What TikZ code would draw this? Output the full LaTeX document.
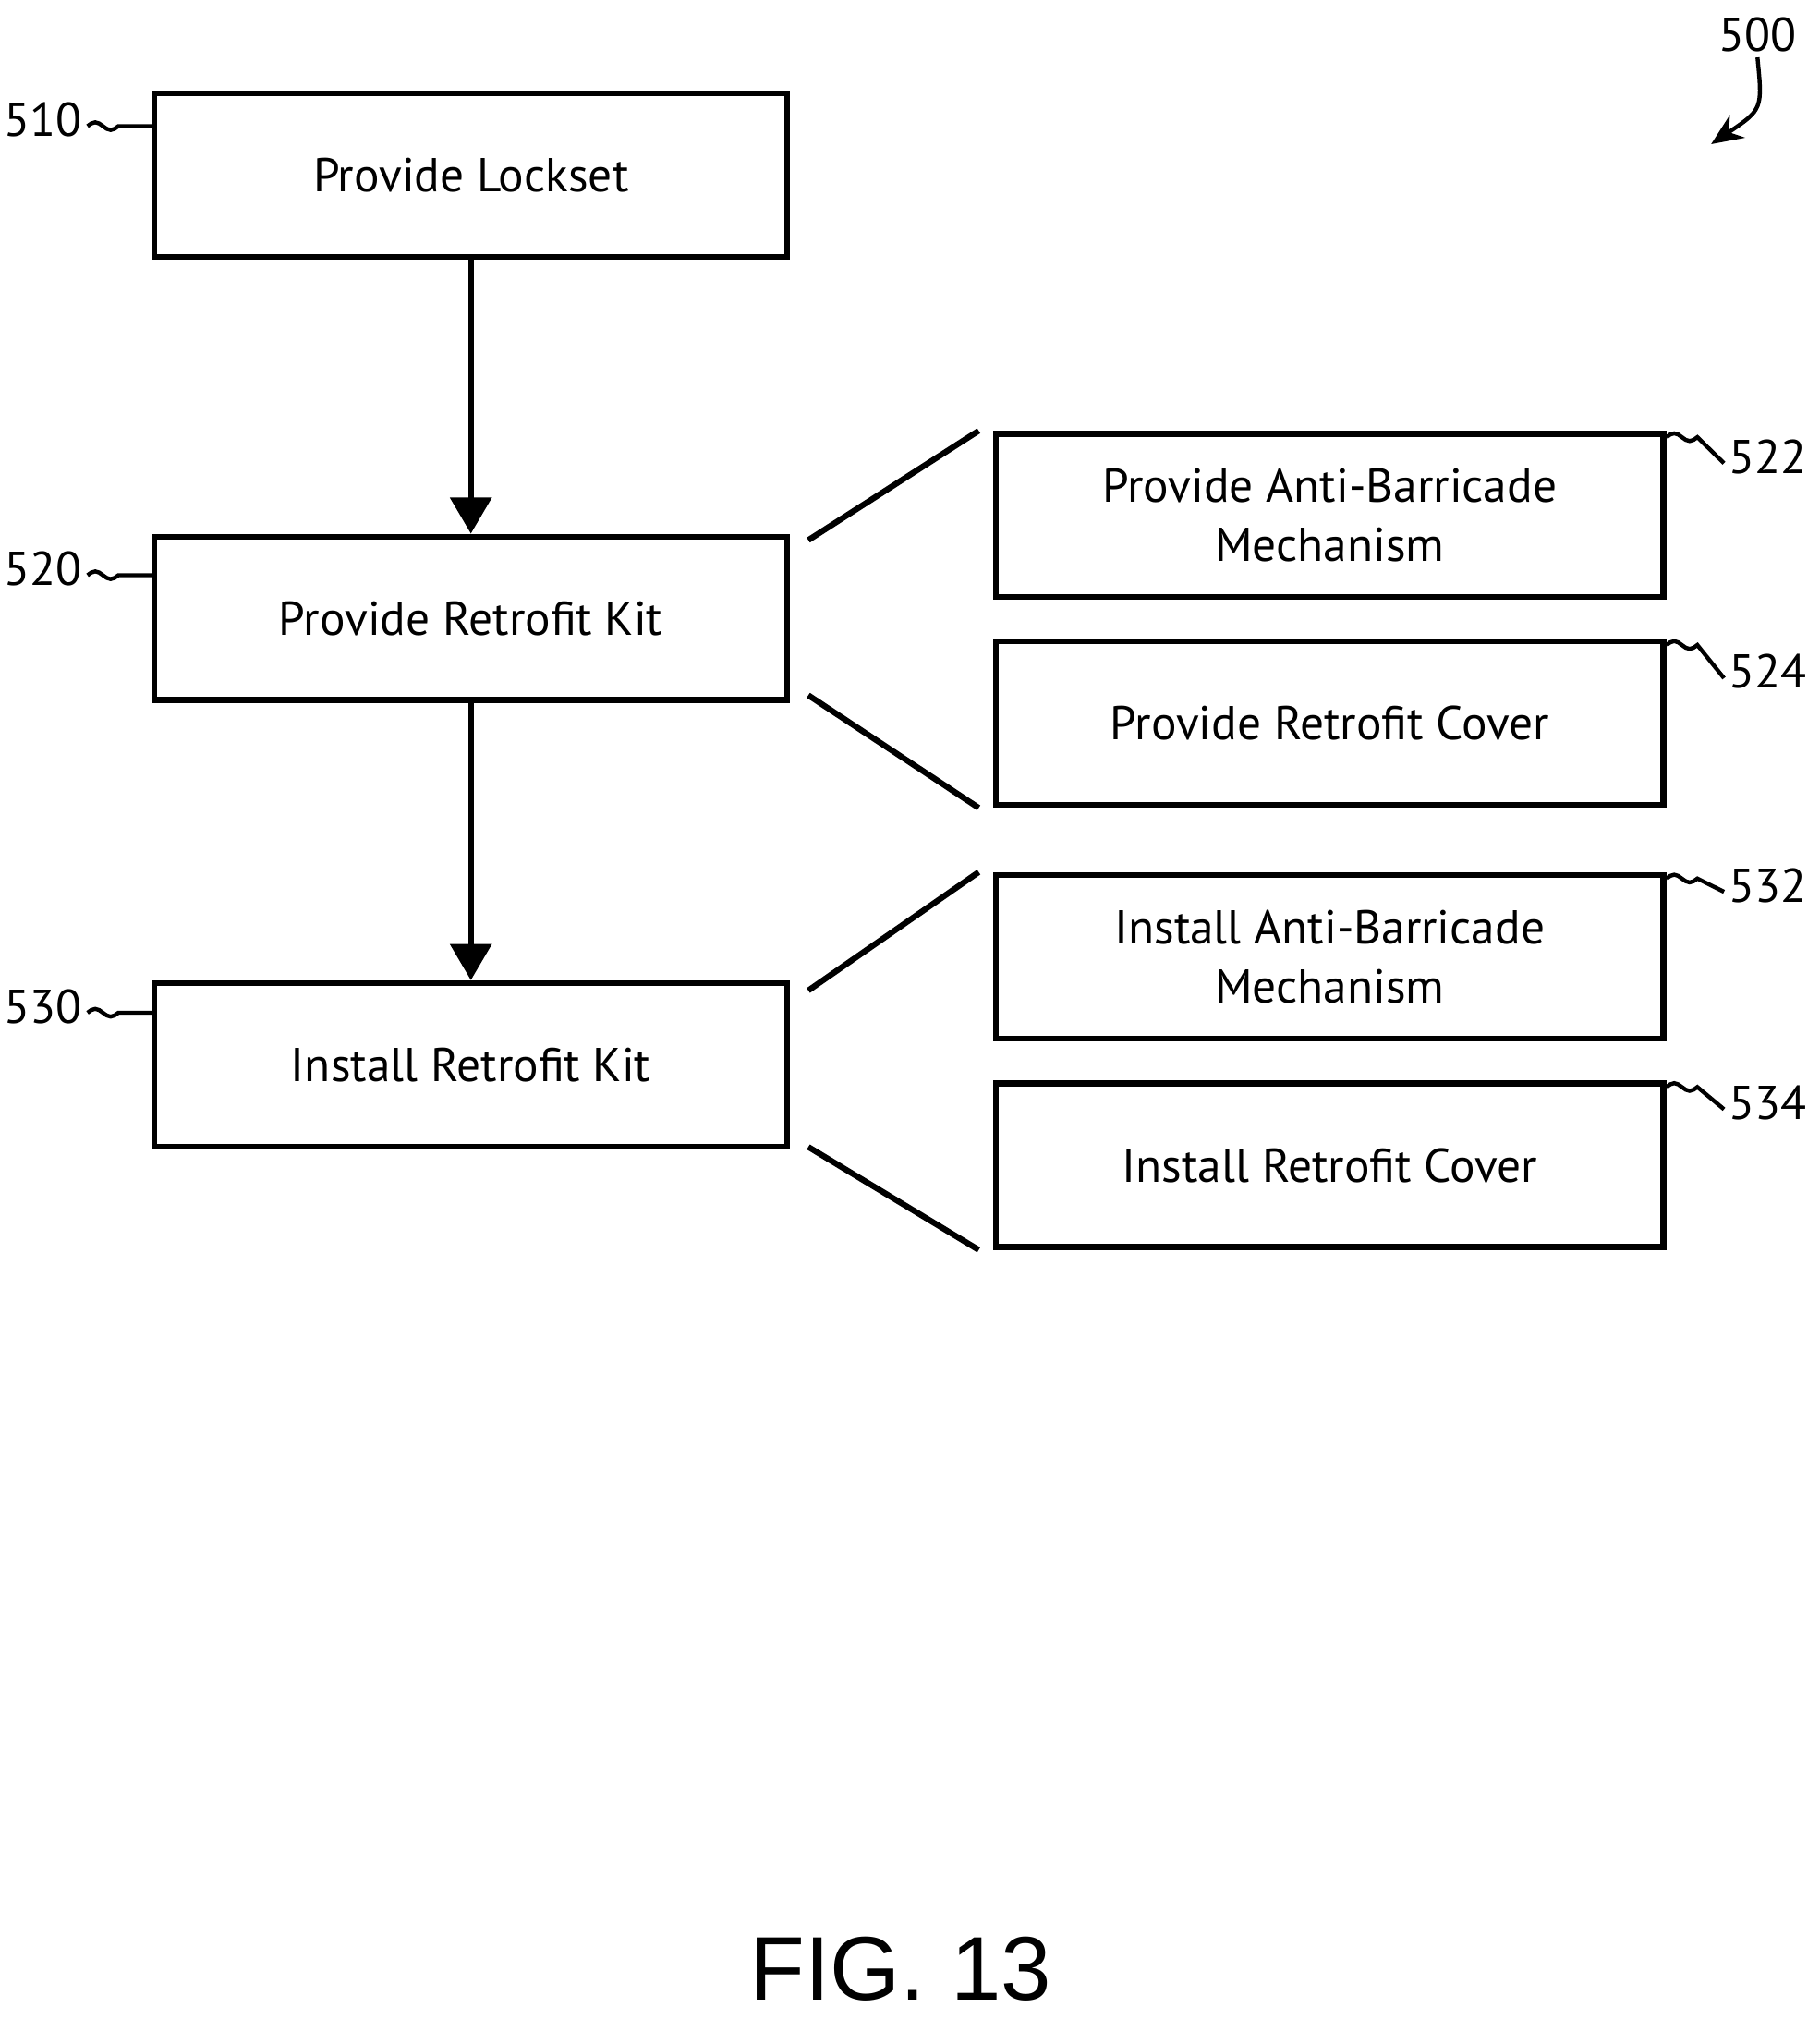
\documentclass[tikz,border=0pt]{standalone}
\usepackage{fontspec}
\setmainfont{PT Sans}
\newfontfamily\figfont{Liberation Sans}
\usetikzlibrary{arrows.meta, positioning}
\tikzset{
  stepbox/.style={draw, line width=1.3pt, minimum width=4.92cm, minimum height=1.27cm, align=center, font=\fontsize{10.5}{13}\selectfont, inner sep=0pt},
  subbox/.style={stepbox, minimum width=5.19cm},
  flow/.style={-{Triangle[length=8pt,width=9pt]}, line width=1.3pt},
  brace/.style={line width=1.3pt},
  ref/.style={font=\fontsize{10.5}{12}\selectfont, inner sep=1pt},
  squig/.style={line width=0.9pt}
}
\newcommand{\wiggle}[1]{ sin ++(0.06,0.03) cos ++(0.06,-0.03) sin ++(0.06,-0.03) cos ++(0.06,0.03)}
\begin{document}
\begin{tikzpicture}
\useasboundingbox (0,0) rectangle (14.14,-15.69);

% main steps
\node[stepbox] (lockset) at (3.66,-1.36) {Provide Lockset};
\node[stepbox] (kit) at (3.66,-4.805) {Provide Retrofit Kit};
\node[stepbox] (install) at (3.66,-8.275) {Install Retrofit Kit};

% sub steps
\node[subbox] (antiA) at (10.335,-4.005) {Provide Anti-Barricade\\Mechanism};
\node[subbox] (coverA) at (10.335,-5.62) {Provide Retrofit Cover};
\node[subbox] (antiB) at (10.335,-7.435) {Install Anti-Barricade\\Mechanism};
\node[subbox] (coverB) at (10.335,-9.055) {Install Retrofit Cover};

\draw[flow] (lockset) -- (kit);
\draw[flow] (kit) -- (install);

\draw[brace] ([xshift=0.14cm,yshift=-0.05cm]kit.north east) -- ([xshift=-0.11cm]antiA.north west);
\draw[brace] ([xshift=0.14cm,yshift=0.06cm]kit.south east) -- ([xshift=-0.11cm]coverA.south west);
\draw[brace] ([xshift=0.14cm,yshift=-0.08cm]install.north east) -- ([xshift=-0.11cm]antiB.north west);
\draw[brace] ([xshift=0.14cm,yshift=0.02cm]install.south east) -- ([xshift=-0.11cm]coverB.south west);

% reference numerals
\node[ref, anchor=east] (n510) at (0.68,-0.93) {510};
\node[ref, anchor=east] (n520) at (0.68,-4.42) {520};
\node[ref, anchor=east] (n530) at (0.68,-7.82) {530};
\node[ref, anchor=west] (n522) at (13.4,-3.55) {522};
\node[ref, anchor=west] (n524) at (13.4,-5.22) {524};
\node[ref, anchor=west] (n532) at (13.4,-6.88) {532};
\node[ref, anchor=west] (n534) at (13.4,-8.57) {534};
\node[ref] (n500) at (13.66,-0.27) {500};

\draw[squig] ([yshift=-0.05cm]n510.east) \wiggle{} -- (lockset.north west |- 0,-0.98);
\draw[squig] ([yshift=-0.05cm]n520.east) \wiggle{} -- (kit.north west |- 0,-4.47);
\draw[squig] ([yshift=-0.05cm]n530.east) \wiggle{} -- (install.north west |- 0,-7.87);
\foreach \b/\n in {antiA/n522, coverA/n524, antiB/n532, coverB/n534}
  \draw[squig] ([yshift=-0.05cm]\b.north east) \wiggle{} -- ([yshift=-0.05cm]\n.west);
\draw[squig, -{Stealth[length=7pt,width=6pt]}] (n500.south) .. controls (13.7,-0.85) .. (13.3,-1.12);

\node[font=\figfont\fontsize{20}{24}\selectfont] (fig) at (7.0,-15.3) {FIG. 13};
\end{tikzpicture}
\end{document}
